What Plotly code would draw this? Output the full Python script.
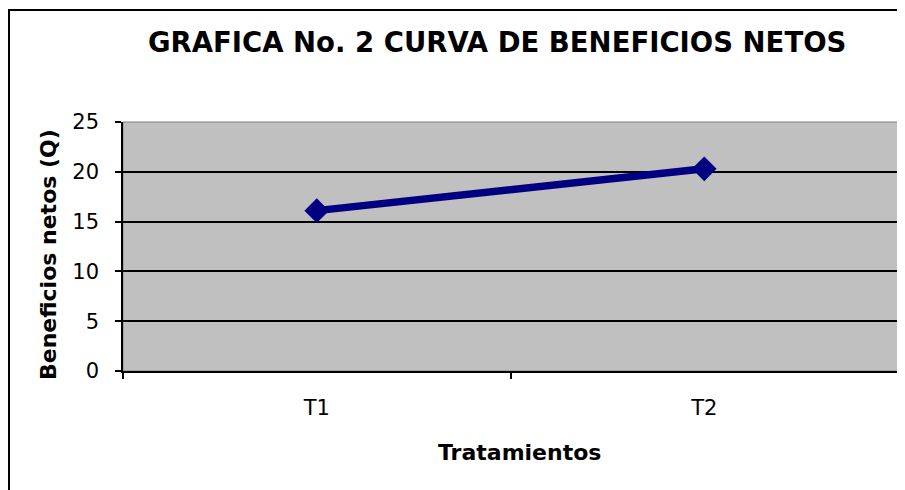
import plotly.graph_objects as go

categories = ["T1", "T2"]
beneficios = [16.1, 20.3]
y_ticks = [0, 5, 10, 15, 20, 25]

# page has an 8px body margin, so figure coords = page coords - 8
W, H = 897, 482
L, T = 115, 114
pw, ph = 775, 249
R = W - L - pw
B = H - T - ph

def px2x(px):
    return (px - 8 - L) / pw

def py2y(py):
    return (H - B - (py - 8)) / ph

FONT = "DejaVu Sans, Liberation Sans, Arial, sans-serif"

fig = go.Figure()
fig.add_trace(go.Scatter(
    x=categories, y=beneficios, mode="lines+markers",
    line=dict(color="#000080", width=7.5),
    marker=dict(symbol="diamond", size=19, color="#000080"),
    showlegend=False, cliponaxis=False,
))

fig.update_layout(
    width=W, height=H,
    margin=dict(l=L, r=R, t=T, b=B, autoexpand=False),
    paper_bgcolor="white",
    plot_bgcolor="#C0C0C0",
    font=dict(family=FONT, color="black"),
    xaxis=dict(
        type="category", range=[-0.5, 1.5], tickson="boundaries",
        ticks="outside", ticklen=6, tickwidth=1.5, tickcolor="black",
        showline=True, linecolor="black", linewidth=2,
        showgrid=False, tickfont=dict(size=21), ticklabelstandoff=17,
        automargin=False,
    ),
    yaxis=dict(
        range=[0, 25], tickvals=y_ticks,
        ticks="outside", ticklen=6, tickwidth=1.5, tickcolor="black",
        showline=True, linecolor="black", linewidth=1.5,
        showgrid=True, gridcolor="black", gridwidth=1.5,
        tickfont=dict(size=21), zeroline=False, ticklabelstandoff=12,
        automargin=False,
    ),
    shapes=[
        dict(type="rect", xref="paper", yref="paper",
             x0=px2x(9), x1=px2x(930), y0=py2y(520), y1=py2y(10),
             line=dict(color="black", width=2), fillcolor="rgba(0,0,0,0)",
             layer="below"),
        dict(type="rect", xref="paper", yref="paper",
             x0=0, x1=1, y0=0, y1=1,
             line=dict(color="#808080", width=1), fillcolor="rgba(0,0,0,0)",
             layer="below"),
    ],
    annotations=[
        dict(text="<b>GRAFICA No. 2 CURVA DE BENEFICIOS NETOS</b>",
             xref="paper", yref="paper", x=px2x(497), y=py2y(42),
             xanchor="center", yanchor="middle", showarrow=False,
             font=dict(size=27.5)),
        dict(text="<b>Tratamientos</b>",
             xref="paper", yref="paper", x=px2x(520), y=py2y(452),
             xanchor="center", yanchor="middle", showarrow=False,
             font=dict(size=22)),
        dict(text="<b>Beneficios netos (Q)</b>",
             xref="paper", yref="paper", x=px2x(48), y=py2y(255),
             xanchor="center", yanchor="middle", showarrow=False,
             textangle=-90, font=dict(size=22)),
    ],
)

fig.write_html("out.html")
